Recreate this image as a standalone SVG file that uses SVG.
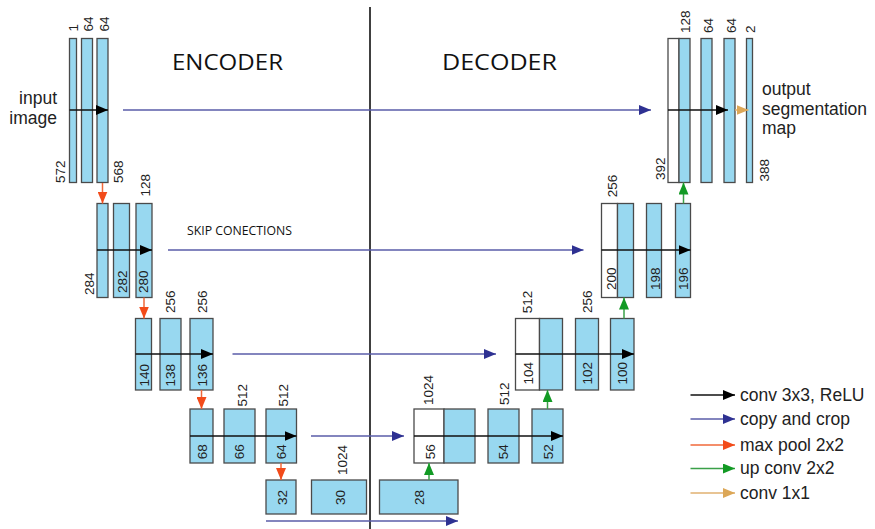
<svg xmlns="http://www.w3.org/2000/svg" width="875" height="529" viewBox="0 0 875 529">
  <style>
    .fm { fill: #98d8f0; stroke: #4a4a4a; stroke-width: 1.3; }
    .cp { fill: #ffffff; stroke: #4a4a4a; stroke-width: 1.3; }
    .num { font-family: "Liberation Sans", Arial, sans-serif; font-size: 13.5px; fill: #222; }
    .mid { text-anchor: middle; }
    .txt { font-family: "Liberation Sans", Arial, sans-serif; font-size: 17.5px; fill: #222; }
    .title { font-family: "Open Sans", "Noto Sans", sans-serif; font-size: 22px; fill: #111; }
    .conv { stroke: #111; stroke-width: 1.3; fill: none; marker-end: url(#hConv); }
    .skip { stroke: #5a5ca8; stroke-width: 1.5; fill: none; marker-end: url(#hSkip); }
    .pool { stroke: #f0683a; stroke-width: 1.5; fill: none; marker-end: url(#hPool); }
    .up { stroke: #3aa048; stroke-width: 1.5; fill: none; marker-end: url(#hUp); }
    .one { stroke: #e0b070; stroke-width: 1.5; fill: none; marker-end: url(#hOne); }
  </style>
  <defs>
    <marker id="hConv" markerUnits="userSpaceOnUse" markerWidth="12" markerHeight="10" refX="12" refY="5" orient="auto">
      <path d="M0,0 L12,5 L0,10 Z" fill="#000"/>
    </marker>
    <marker id="hSkip" markerUnits="userSpaceOnUse" markerWidth="12" markerHeight="10" refX="12" refY="5" orient="auto">
      <path d="M0,0 L12,5 L0,10 Z" fill="#2e3192"/>
    </marker>
    <marker id="hPool" markerUnits="userSpaceOnUse" markerWidth="12" markerHeight="10" refX="12" refY="5" orient="auto">
      <path d="M0,0 L12,5 L0,10 Z" fill="#f24b1a"/>
    </marker>
    <marker id="hUp" markerUnits="userSpaceOnUse" markerWidth="12" markerHeight="10" refX="12" refY="5" orient="auto">
      <path d="M0,0 L12,5 L0,10 Z" fill="#129a24"/>
    </marker>
    <marker id="hOne" markerUnits="userSpaceOnUse" markerWidth="12" markerHeight="10" refX="12" refY="5" orient="auto">
      <path d="M0,0 L12,5 L0,10 Z" fill="#dca757"/>
    </marker>
  </defs>

  <rect width="875" height="529" fill="#ffffff"/>

  <!-- section headings and divider -->
  <g id="headings">
    <line x1="370" y1="7" x2="370" y2="529" stroke="#000" stroke-width="1.5"/>
    <text class="title" x="172" y="70" textLength="111" lengthAdjust="spacingAndGlyphs">ENCODER</text>
    <text class="title" x="442" y="70" textLength="115" lengthAdjust="spacingAndGlyphs">DECODER</text>
    <text x="187" y="235" font-family="'Open Sans', 'Noto Sans', sans-serif" font-size="13" fill="#111" textLength="105" lengthAdjust="spacingAndGlyphs">SKIP CONECTIONS</text>
    <text class="txt" x="57" y="104" text-anchor="end" font-size="17">input</text>
    <text class="txt" x="57" y="124" text-anchor="end" font-size="17">image</text>
    <text class="txt" x="762" y="95">output</text>
    <text class="txt" x="762" y="115">segmentation</text>
    <text class="txt" x="762" y="134">map</text>
  </g>

  <!-- encoder level 1: 572 -> 568 -->
  <g id="enc1">
    <rect class="fm" x="69.5" y="38.5" width="7" height="144"/>
    <rect class="fm" x="81.5" y="38.5" width="11" height="144"/>
    <rect class="fm" x="97" y="38.5" width="11" height="144"/>
    <text class="num" transform="translate(78.3,31.5) rotate(-90)">1</text>
    <text class="num" transform="translate(93,31.5) rotate(-90)">64</text>
    <text class="num" transform="translate(108.8,31.5) rotate(-90)">64</text>
    <text class="num" transform="translate(65.3,183) rotate(-90)">572</text>
    <text class="num" transform="translate(123.1,183) rotate(-90)">568</text>
  </g>

  <!-- encoder level 2: 284 -> 280 -->
  <g id="enc2">
    <rect class="fm" x="97" y="203.5" width="11" height="94"/>
    <rect class="fm" x="113.5" y="203.5" width="16" height="94"/>
    <rect class="fm" x="136" y="203.5" width="16" height="94"/>
    <text class="num" transform="translate(149.8,196.5) rotate(-90)">128</text>
    <text class="num" transform="translate(93.5,295) rotate(-90)">284</text>
    <text class="num mid" transform="translate(127.1,281.7) rotate(-90)">282</text>
    <text class="num mid" transform="translate(148.1,281.7) rotate(-90)">280</text>
  </g>

  <!-- encoder level 3: 140 -> 136 -->
  <g id="enc3">
    <rect class="fm" x="135.5" y="318.5" width="16" height="71.5"/>
    <rect class="fm" x="160" y="318.5" width="21" height="71.5"/>
    <rect class="fm" x="190" y="318.5" width="23" height="71.5"/>
    <text class="num" transform="translate(174.8,313) rotate(-90)">256</text>
    <text class="num" transform="translate(206.5,313) rotate(-90)">256</text>
    <text class="num mid" transform="translate(148.8,375.3) rotate(-90)">140</text>
    <text class="num mid" transform="translate(174.8,375.3) rotate(-90)">138</text>
    <text class="num mid" transform="translate(206.5,375.3) rotate(-90)">136</text>
  </g>

  <!-- encoder level 4: 68 -> 64 -->
  <g id="enc4">
    <rect class="fm" x="190" y="409" width="23" height="54"/>
    <rect class="fm" x="224" y="409" width="31" height="54"/>
    <rect class="fm" x="266" y="409" width="30.5" height="54"/>
    <text class="num" transform="translate(246.5,406.5) rotate(-90)">512</text>
    <text class="num" transform="translate(287.5,406.5) rotate(-90)">512</text>
    <text class="num mid" transform="translate(206.5,451.7) rotate(-90)">68</text>
    <text class="num mid" transform="translate(243.8,451.7) rotate(-90)">66</text>
    <text class="num mid" transform="translate(285.8,451.7) rotate(-90)">64</text>
  </g>

  <!-- bottleneck: 32 -> 28 -->
  <g id="bottleneck">
    <rect class="fm" x="266" y="480" width="30" height="34"/>
    <rect class="fm" x="311.5" y="480" width="55" height="34"/>
    <rect class="fm" x="379.5" y="480" width="78.5" height="34"/>
    <text class="num" transform="translate(346.5,475) rotate(-90)">1024</text>
    <text class="num mid" transform="translate(286.5,497.5) rotate(-90)">32</text>
    <text class="num mid" transform="translate(344.5,497.5) rotate(-90)">30</text>
    <text class="num mid" transform="translate(424.3,497.5) rotate(-90)">28</text>
  </g>

  <!-- decoder level 4: 56 -> 52 -->
  <g id="dec4">
    <rect class="cp" x="414" y="409" width="30" height="54"/>
    <rect class="fm" x="444" y="409" width="31" height="54"/>
    <rect class="fm" x="488" y="409" width="31" height="54"/>
    <rect class="fm" x="532" y="409" width="31" height="54"/>
    <text class="num" transform="translate(433.1,405) rotate(-90)">1024</text>
    <text class="num" transform="translate(508.8,405) rotate(-90)">512</text>
    <text class="num mid" transform="translate(434.8,451.7) rotate(-90)">56</text>
    <text class="num mid" transform="translate(507.8,451.7) rotate(-90)">54</text>
    <text class="num mid" transform="translate(552.8,451.7) rotate(-90)">52</text>
  </g>

  <!-- decoder level 3: 104 -> 100 -->
  <g id="dec3">
    <rect class="cp" x="515.5" y="318.5" width="24" height="71.5"/>
    <rect class="fm" x="539.5" y="318.5" width="23" height="71.5"/>
    <rect class="fm" x="575.5" y="318.5" width="23" height="71.5"/>
    <rect class="fm" x="610.5" y="318.5" width="23.5" height="71.5"/>
    <text class="num" transform="translate(532.1,313.3) rotate(-90)">512</text>
    <text class="num" transform="translate(591.8,313) rotate(-90)">256</text>
    <text class="num mid" transform="translate(532.5,373.3) rotate(-90)">104</text>
    <text class="num mid" transform="translate(591.5,373.3) rotate(-90)">102</text>
    <text class="num mid" transform="translate(627.1,373.3) rotate(-90)">100</text>
  </g>

  <!-- decoder level 2: 200 -> 196 -->
  <g id="dec2">
    <rect class="cp" x="601.5" y="203.5" width="16" height="94"/>
    <rect class="fm" x="617.5" y="203.5" width="16" height="94"/>
    <rect class="fm" x="646.5" y="203.5" width="15" height="94"/>
    <rect class="fm" x="675.5" y="203.5" width="15" height="94"/>
    <text class="num" transform="translate(616.5,197.3) rotate(-90)">256</text>
    <text class="num mid" transform="translate(615.5,278.7) rotate(-90)">200</text>
    <text class="num mid" transform="translate(659.8,278.7) rotate(-90)">198</text>
    <text class="num mid" transform="translate(688.1,278.7) rotate(-90)">196</text>
  </g>

  <!-- decoder level 1: 392 -> 388 -->
  <g id="dec1">
    <rect class="cp" x="668" y="38.5" width="11" height="144"/>
    <rect class="fm" x="679" y="38.5" width="11" height="144"/>
    <rect class="fm" x="701" y="38.5" width="11" height="144"/>
    <rect class="fm" x="724" y="38.5" width="11" height="144"/>
    <rect class="fm" x="746.5" y="38.5" width="6" height="144"/>
    <text class="num" transform="translate(689.8,33) rotate(-90)">128</text>
    <text class="num" transform="translate(712.5,33) rotate(-90)">64</text>
    <text class="num" transform="translate(735.5,33) rotate(-90)">64</text>
    <text class="num" transform="translate(754.8,33) rotate(-90)">2</text>
    <text class="num" transform="translate(665.3,180) rotate(-90)">392</text>
    <text class="num" transform="translate(768.6,181.5) rotate(-90)">388</text>
  </g>

  <!-- operations between feature maps -->
  <g id="connectors">
    <!-- conv 3x3 chains -->
    <line class="conv" x1="69.5" y1="110" x2="108" y2="110"/>
    <line class="conv" x1="97" y1="250" x2="152" y2="250"/>
    <line class="conv" x1="135.5" y1="354" x2="213" y2="354"/>
    <line class="conv" x1="190" y1="436" x2="296.5" y2="436"/>
    <line class="conv" x1="414" y1="436" x2="563" y2="436"/>
    <line class="conv" x1="515.5" y1="354" x2="634" y2="354"/>
    <line class="conv" x1="601.5" y1="250" x2="690.5" y2="250"/>
    <line class="conv" x1="668" y1="110" x2="728" y2="110"/>
    <!-- conv 1x1 -->
    <line class="one" x1="735" y1="110" x2="748.5" y2="110"/>
    <!-- copy and crop -->
    <line class="skip" x1="123" y1="110" x2="651" y2="110"/>
    <line class="skip" x1="168" y1="250" x2="583.5" y2="250"/>
    <line class="skip" x1="232.5" y1="354" x2="496" y2="354"/>
    <line class="skip" x1="311" y1="436" x2="404" y2="436"/>
    <line class="skip" x1="266" y1="521" x2="458" y2="521"/>
    <!-- max pool -->
    <line class="pool" x1="102.5" y1="183" x2="102.5" y2="203.5"/>
    <line class="pool" x1="144" y1="297.5" x2="144" y2="318.5"/>
    <line class="pool" x1="201.5" y1="390" x2="201.5" y2="409"/>
    <line class="pool" x1="281" y1="463" x2="281" y2="480"/>
    <!-- up conv -->
    <line class="up" x1="429" y1="480" x2="429" y2="463"/>
    <line class="up" x1="547.5" y1="409" x2="547.5" y2="390"/>
    <line class="up" x1="624" y1="318.5" x2="624" y2="297.5"/>
    <line class="up" x1="683.5" y1="203.5" x2="683.5" y2="182.5"/>
  </g>

  <!-- legend -->
  <g id="legend">
    <line class="conv" x1="690.5" y1="395" x2="735" y2="395"/>
    <line class="skip" x1="690.5" y1="419" x2="735" y2="419"/>
    <line class="pool" x1="690.5" y1="445" x2="735" y2="445"/>
    <line class="up" x1="690.5" y1="468.5" x2="735" y2="468.5"/>
    <line class="one" x1="690.5" y1="493" x2="735" y2="493"/>
    <text class="txt" x="740" y="400.5">conv 3x3, ReLU</text>
    <text class="txt" x="740" y="424.5">copy and crop</text>
    <text class="txt" x="740" y="450.5">max pool 2x2</text>
    <text class="txt" x="740" y="474">up conv 2x2</text>
    <text class="txt" x="740" y="498.5">conv 1x1</text>
  </g>
</svg>
